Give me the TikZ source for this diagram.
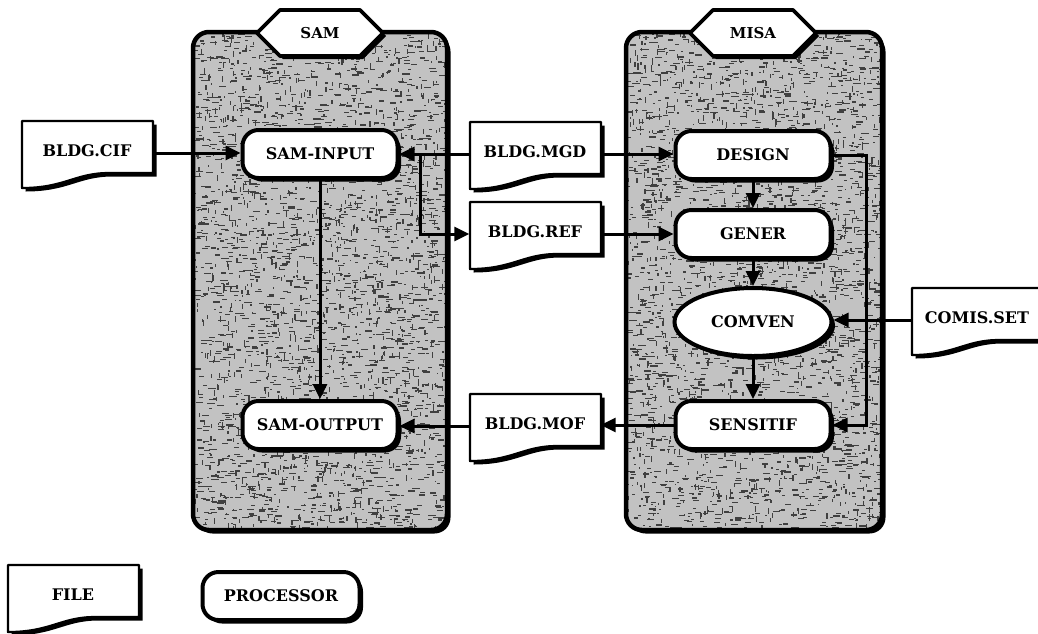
\documentclass[tikz,border=0pt]{standalone}
\usepackage{fontspec}
\setmainfont{DejaVu Serif}
\usetikzlibrary{arrows.meta,shapes.geometric,shadows}

\newcommand{\myfilepath}{(-65,-32) -- (66,-32) -- (66,20) -- (22,20) .. controls (-12,20) and (-22,35) .. (-65,35) -- cycle}
\newcommand{\myfile}[3]{%
  \begin{scope}[shift={(#2)}]
    \fill[black,shift={(3.5,3.5)}] \myfilepath;
    \draw[line width=2.2pt,fill=white,line join=round] \myfilepath;
  \end{scope}
  \node[filen] (#1) at (#2) {\raisebox{4pt}{#3}};%
}
\newcommand{\myhexpath}{(-63,0) -- (-40,-23) -- (40,-23) -- (63,0) -- (40,23) -- (-40,23) -- cycle}
\newcommand{\myhex}[3]{%
  \begin{scope}[shift={(#2)}]
    \fill[black,shift={(3,3)}] \myhexpath;
    \draw[line width=3.8pt,fill=white,line join=round] \myhexpath;
  \end{scope}
  \node[hexlbl] (#1) at (#2) {#3};%
}
% textured panel: #1 = x0, #2 = x1
\newcommand{\mypanel}[2]{%
  \fill[black, rounded corners=16pt] (#1+3.5,35.5) rectangle (#2+3.5,533.5);
  \fill[black!24, rounded corners=16pt] (#1,32) rectangle (#2,530);
  \begin{scope}
    \clip[rounded corners=16pt] (#1,32) rectangle (#2,530);
    \foreach \k in {1,...,2300}{%
      \pgfmathsetmacro{\rx}{#1+(#2-#1)*rnd}%
      \pgfmathsetmacro{\ry}{32+498*rnd}%
      \pgfmathsetmacro{\rw}{1.5+6*rnd}%
      \fill[black!75] (\rx,\ry) rectangle ++(\rw,1.2);
    }
    \foreach \k in {1,...,1000}{%
      \pgfmathsetmacro{\rx}{#1+(#2-#1)*rnd}%
      \pgfmathsetmacro{\ry}{32+498*rnd}%
      \pgfmathsetmacro{\rw}{1.5+5*rnd}%
      \fill[black!75] (\rx,\ry) rectangle ++(1.2,\rw);
    }
  \end{scope}
  \draw[line width=4.5pt, rounded corners=16pt] (#1,32) rectangle (#2,530);
}

\begin{document}
\begin{tikzpicture}[x=1pt,y=-1pt,
  lbl/.style={font=\fontsize{16}{19}\selectfont\bfseries},
  hexlbl/.style={font=\fontsize{15}{18}\selectfont\bfseries, inner sep=0pt},
  filen/.style={lbl, minimum width=131pt, minimum height=60pt, inner sep=0pt},
  procshadow/.style={drop shadow={shadow xshift=3.5pt, shadow yshift=-3.5pt, opacity=1, fill=black}},
  proc/.style={lbl, rounded corners=16pt, draw, line width=4pt, fill=white,
    minimum width=155pt, minimum height=48pt, inner sep=0pt, procshadow},
  procell/.style={lbl, ellipse, draw, line width=4pt, fill=white,
    minimum width=157pt, minimum height=68pt, inner sep=0pt, procshadow},
  conn/.style={line width=3pt, -{Triangle[length=15pt,width=14pt]}},
]
\useasboundingbox (0,0) rectangle (1038,633);
\fill[white] (0,0) rectangle (1038,633);
\pgfmathsetseed{4711}

% panels
\mypanel{193}{447}
\mypanel{626}{882}
\myhex{samlbl}{320,33}{SAM}
\myhex{misalbl}{753,33}{MISA}

% processors
\node[proc] (sin) at (320,154) {SAM-INPUT};
\node[proc] (sout) at (320,425) {SAM-OUTPUT};
\node[proc] (des) at (753,155) {DESIGN};
\node[proc] (gen) at (753,234) {GENER};
\node[procell] (com) at (753,322) {COMVEN};
\node[proc] (sen) at (753,425) {SENSITIF};

% files
\myfile{cif}{87,153}{BLDG.CIF}
\myfile{mgd}{535,154}{BLDG.MGD}
\myfile{ref}{535,234}{BLDG.REF}
\myfile{mof}{535,426}{BLDG.MOF}
\myfile{cms}{977,320}{COMIS.SET}

% legend
\myfile{legfile}{73,597}{FILE}
\node[proc, minimum width=157pt] (legproc) at (281,596) {PROCESSOR};

% connectors
\coordinate (br) at (420,154);
\coordinate (loopx) at (866,155);
\draw[conn] (cif.east) -- (cif.east -| sin.west);
\draw[conn] (mgd.west) -- (mgd.west -| sin.east);
\draw[conn] (br) |- (ref.west);
\draw[conn] (mgd.east) -- (mgd.east -| des.west);
\draw[conn] (ref.east) -- (ref.east -| gen.west);
\draw[conn] (des) -- (gen);
\draw[conn] (gen) -- (com);
\draw[conn] (com) -- (sen);
\draw[conn] (des.east) -- (loopx) |- (sen.east);
\draw[conn] (cms.west) -- (cms.west -| com.east);
\draw[conn] (sen.west) -- (sen.west -| mof.east);
\draw[conn] (mof.west) -- (mof.west -| sout.east);
\draw[conn] (sin) -- (sout);
\end{tikzpicture}
\end{document}
